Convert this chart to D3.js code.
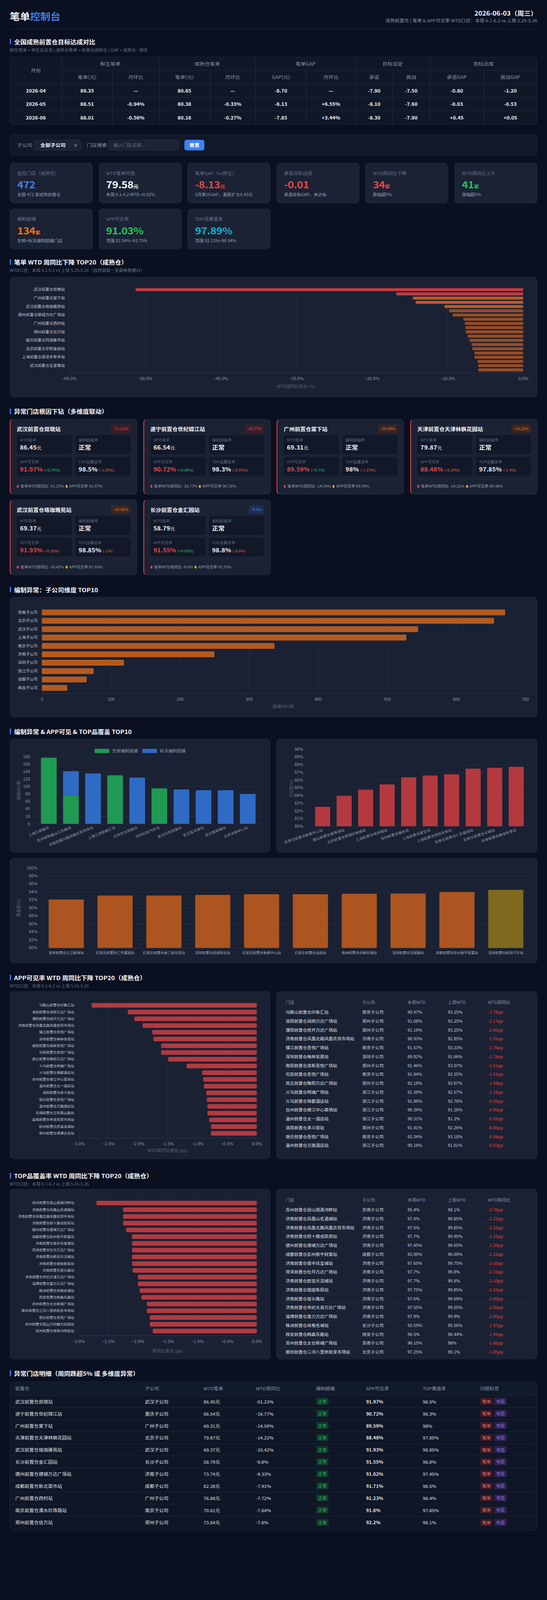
<!DOCTYPE html>
<html lang="zh-CN">
<head>
<meta charset="utf-8">
<title>笔单控制台</title>
<script src="https://cdn.jsdelivr.net/npm/d3@7/dist/d3.min.js"></script>
<style>
*{box-sizing:border-box;margin:0;padding:0}
::-webkit-scrollbar{display:none;width:0;height:0}
html,body{background:#0a1020}
body{position:relative;width:1400px;overflow:hidden;font-family:"Noto Sans CJK SC","Noto Sans",sans-serif;color:#e5e7eb}
#page{position:relative;width:1400px;height:4500px;transform-origin:0 0;background:#0a1020}
.card{position:absolute;background:#1a2133;border:1px solid #232c3f;border-radius:10px;overflow:hidden}
.card svg{position:absolute;left:-1px;top:-1px}
.sec{position:absolute;left:25px;height:22px;line-height:22px;padding-left:11px;font-size:16px;font-weight:700;color:#f8fafc;white-space:nowrap}
.sec::before{content:"";position:absolute;left:0;top:3px;width:3px;height:16px;background:#3b82f6;border-radius:1px}
.sub{position:absolute;left:25px;height:16px;line-height:16px;font-size:11px;color:#64748b;white-space:nowrap}
table{border-collapse:collapse;table-layout:fixed;border-style:hidden}
.tt{position:absolute;left:25px;top:160px;width:1350px;border:1px solid #232c3f;border-radius:8px;overflow:hidden;background:#101727}
.tt table{width:1348px}
.tt th{height:37px;font-size:13px;font-weight:400;color:#8b95a7;border:1px solid #232c3f;text-align:center}
.tt td{height:38px;font-size:13px;font-weight:700;color:#f1f5f9;border:1px solid #232c3f;text-align:center}
.fbar{position:absolute;left:25px;top:378px;width:1350px;height:59px;background:#111827;border:1px solid #1f2a3c;border-radius:8px}
.fbar div{position:absolute}
.kpi{position:absolute;width:212px;height:114px;background:#1b2234;border:1px solid #232c3f;border-radius:10px}
.kpi .l{position:absolute;left:18px;top:19px;font-size:12px;color:#64748b;line-height:18px;white-space:nowrap}
.kpi .v{position:absolute;left:18px;top:43px;font-size:27px;font-weight:700;line-height:34px;white-space:nowrap;letter-spacing:-0.5px}
.kpi .v span{font-size:13px;font-weight:700;letter-spacing:0}
.kpi .s{position:absolute;left:18px;top:80px;font-size:11px;color:#94a3b8;line-height:16px;white-space:nowrap}
.ac{position:absolute;width:326px;height:213px;background:#1b2234;border:1px solid #232c3f;border-left:2px solid #ef4444;border-radius:10px}
.ac .nm{position:absolute;left:16px;top:16px;font-size:14px;font-weight:700;color:#f8fafc;line-height:22px;white-space:nowrap}
.ac .bd{position:absolute;right:16px;top:15px;height:24px;line-height:24px;padding:0 6px;font-size:10px;border-radius:4px}
.ac .bx{position:absolute;width:141px;height:53px;background:#121828;border-radius:6px}
.bx .bl{position:absolute;left:8px;top:7px;font-size:10px;color:#5b6b80;line-height:14px;white-space:nowrap}
.bx .bv{position:absolute;left:8px;top:23px;font-size:16px;font-weight:700;line-height:22px;white-space:nowrap;color:#f1f5f9}
.bx .bv .u{font-size:12px;font-weight:400}
.bx .bv .dl{font-size:10px;font-weight:400}
.ac .dv{position:absolute;left:16px;right:16px;top:169px;height:1px;background:#273043}
.ac .ft{position:absolute;left:16px;top:180px;font-size:10px;color:#9aa3b2;line-height:16px;white-space:nowrap}
.dot{display:inline-block;width:5px;height:8px;border-radius:3px;margin-right:4px;vertical-align:-1px}
.dt{position:absolute;left:14px;top:14px;width:640px}
.dt th{height:30px;text-align:left;padding-left:9px;font-size:11px;font-weight:400;color:#8b95a7;border-bottom:1px solid #232c3f}
.dt td{height:25px;text-align:left;padding-left:9px;font-size:11px;color:#dbe2ea;border-bottom:1px solid #232c3f;white-space:nowrap}
.fin{position:absolute;left:25px;top:3885px;width:1350px;height:420px;background:#0f1626;border:1px solid #1f2937;border-radius:8px;overflow:hidden}
.fin table{width:1348px}
.fin th{height:38px;text-align:left;padding-left:13px;font-size:12px;font-weight:400;color:#8b95a7;border-bottom:1px solid #232c3f;background:#111a2b}
.fin td{height:34px;text-align:left;padding-left:13px;font-size:12px;color:#e5e7eb;border-bottom:1px solid #232c3f;white-space:nowrap}
.tag{display:inline-block;height:20px;line-height:20px;padding:0 5px;font-size:11px;border-radius:3px;margin-right:4px;vertical-align:middle}
</style>
</head>
<body>
<script>
// ===================== DATA =====================
const months = ["2026-04","2026-05","2026-06"];
const freshOrder = [89.35, 88.51, 88.01];
const freshMoM = [null, -0.94, -0.56];
const matureOrder = [80.65, 80.38, 80.16];
const matureMoM = [null, -0.33, -0.27];
const gapOrder = [-8.70, -8.13, -7.85];
const gapMoM = [null, 6.55, 3.44];
const targetCommit = [-7.90, -8.10, -8.30];
const targetChallenge = [-7.50, -7.60, -7.90];
const commitGap = [-0.80, -0.03, 0.45];
const challengeGap = [-1.20, -0.53, 0.05];
const groupHeads = ["鲜生笔单","成熟仓笔单","笔单GAP","目标设定","目标达成"];
const subHeads = ["笔单(元)","月环比","笔单(元)","月环比","GAP(元)","月环比","承诺","挑战","承诺GAP","挑战GAP"];

const kpiLabels = ["监控门店（成熟仓）","WTD笔单均值","笔单GAP（vs鲜生）","承诺目标达成","WTD周同比下降","WTD周同比上升","编制超编","APP可见率","TOP品覆盖率"];
const kpiValues = ["472","79.58","-8.13","-0.01","34","41","134","91.03%","97.89%"];
const kpiUnits = ["","元","元","","家","家","家","",""];
const kpiSubs = ["全国 472 家成熟前置仓","本周 6.1-6.2 WTD +0.02%","5月累计GAP，差距扩大0.43元","承诺目标GAP，未达标","跌幅超5%","涨幅超5%","生鲜+标冻编制超编门店","范围 82.54%~93.75%","范围 92.13%~98.94%"];
const kpiColors = ["#3b82f6","#f8fafc","#ef4444","#ef4444","#ef4444","#22c55e","#f97316","#22c55e","#06b6d4"];

const wtdStores = ["武汉前置仓双墩站","遂宁前置仓世纪锦江站","广州前置仓棠下站","天津前置仓天津林枫花园站","武汉前置仓珞珈雅苑站","长沙前置仓金汇园站","德州前置仓德城万达广场站","成都前置仓新北菜市站","广州前置仓西村站","南京前置仓溧水珍珠路站","郑州前置仓信万站","青岛前置仓台东步行街站","临沂前置仓同城集市站","西安前置仓曲江池站","北京前置仓学府金街站","深圳前置仓龙华汽车站","上海前置仓泗泾手牵手站","杭州前置仓滨江星光站","武汉前置仓五里墩站","成都前置仓双楠站"];
const wtdChange = [-51.23,-16.77,-14.59,-14.22,-10.42,-9.8,-9.33,-7.91,-7.72,-7.64,-7.6,-7.33,-7.1,-6.82,-6.73,-6.45,-6.45,-6.04,-5.94,-5.94];
const wtdTicks = [-60,-50,-40,-30,-20,-10,0];

const anomNames = ["武汉前置仓双墩站","遂宁前置仓世纪锦江站","广州前置仓棠下站","天津前置仓天津林枫花园站","武汉前置仓珞珈雅苑站","长沙前置仓金汇园站"];
const anomDrop = [-51.23,-16.77,-14.59,-14.22,-10.42,-9.8];
const anomWtd = [86.45,66.54,69.31,79.87,69.37,58.79];
const anomStaff = ["正常","正常","正常","正常","正常","正常"];
const anomApp = [91.97,90.72,89.59,88.48,91.93,91.55];
const anomAppDelta = [0.79,0.88,0.7,-0.24,-0.28,0.66];
const anomTop = [98.5,98.3,98,97.85,98.85,98.8];
const anomTopDelta = [-1.05,-0.95,-1.15,-1.4,-1,-0.6];

const subNames = ["苏南子公司","北京子公司","武汉子公司","上海子公司","南京子公司","济南子公司","深圳子公司","浙江子公司","成都子公司","南昌子公司"];
const subOver = [671,655,545,528,337,250,119,75,65,37];
const subTicks = [0,100,200,300,400,500,600,700];

const overStores = ["上海万顺路站","苏州常熟虞山江东路站","济南凤凰北路凤凰农贸市场站","上海江湾新都汇站","北京农大南路站","深圳石岩汽车站","武汉汉阳凤凰站","武汉宝丰路站","武汉鄂家嘴站","北京沃柳中心站"];
const overFresh = [177,76,0,130,0,95,0,0,0,0];
const overFrozen = [0,65,135,0,124,0,92,90,90,80];
const overSeries = ["生鲜编制超编","标冻编制超编"];
const overTicks = [0,20,40,60,80,100,120,140,160,180];

const appLowStores = ["石家庄前置仓勒泰中心站","唐山前置仓爱琴海站","北京前置仓家园印象城站","上海前置仓绿洲城站","深圳前置仓福永站","上海前置仓星空站","上海前置仓阳悦天地站","石家庄前置仓仁华嘉园站","石家庄前置仓北城站","天津前置仓静海东里站"];
const appLowVals = [82.52,83.96,84.75,85.44,86.36,86.59,86.74,87.47,87.59,87.71];
const appLowTicks = [80,81,82,83,84,85,86,87,88,89,90];

const topLowStores = ["宜宾前置仓三江新城站","石家庄前置仓仁华嘉园站","石家庄前置仓振二街北苑站","深圳前置仓西部硅谷站","石家庄前置仓勒泰中心站","石家庄前置仓谈固站","株洲前置仓尚格名城站","深圳前置仓宝丽路站","成都前置仓彭州敖平财富站","深圳前置仓松岗汽车站"];
const topLowVals = [92.09,93.1,93.1,93.24,93.42,93.42,93.54,93.6,93.96,94.52];
const topLowTicks = [80,82,84,86,88,90,92,94,96,98,100];

const appStores = ["马鞍山前置仓印象汇站","洛阳前置仓涧西万达广场站","濮阳前置仓经开万达广场站","济南前置仓凤凰北路凤凰农贸市场站","镇江前置仓吾悦广场站","深圳前置仓梅林安居站","南阳前置仓高新吾悦广场站","句容前置仓吾悦广场站","商丘前置仓睢阳万达广场站","义乌前置仓明城广场站","义乌前置仓锦都酒店站","台州前置仓椒江中心菜场站","温州前置仓太一酒店站","洛阳前置仓承义街站","宿迁前置仓吾悦广场站","温州前置仓万融酒店站","无锡前置仓江阴青山路站","盐城前置仓禾成农贸市场站","杭州前置仓西溪龙湖站","常州前置仓清潭文化站"];
const appSubs = ["南京子公司","郑州子公司","郑州子公司","济南子公司","南京子公司","深圳子公司","郑州子公司","南京子公司","郑州子公司","浙江子公司","浙江子公司","浙江子公司","浙江子公司","郑州子公司","南京子公司","浙江子公司","苏南子公司","南京子公司","浙江子公司","苏南子公司"];
const appThis = [90.47,91.08,91.19,90.93,91.57,89.92,91.46,91.94,92.18,91.39,91.86,90.36,90.31,91.41,92.34,90.18,91.73,91.02,91.5,91.62];
const appLast = [93.25,93.25,93.25,92.85,93.33,91.66,93.07,93.55,93.67,92.57,92.78,91.26,91.2,92.26,93.18,91.01,92.56,91.82,92.27,92.39];
const appDelta = [-2.78,-2.17,-2.06,-1.92,-1.76,-1.74,-1.61,-1.61,-1.49,-1.18,-0.92,-0.90,-0.89,-0.85,-0.84,-0.83,-0.83,-0.80,-0.77,-0.77];

const topStores = ["苏州前置仓昆山观源河畔站","济南前置仓凤凰山名酒城站","济南前置仓凤凰北路凤凰农贸市场站","济南前置仓经十路戎凯苑站","德州前置仓德城万达广场站","成都前置仓彭州敖平财富站","济南前置仓银丰玖玺城站","菏泽前置仓牡丹万达广场站","济南前置仓欧亚乐活城站","济南前置仓银座新辰站","济南前置仓窑头路站","济南前置仓世纪大道万达广场站","淄博前置仓富力万达广场站","株洲前置仓尚格名城站","西安前置仓韩森东路站","苏州前置仓太仓新城广场站","廊坊前置仓三河八里桥批发市场站","宿迁前置仓吾悦广场站","苏州前置仓昆山万科魅力花园站","苏州前置仓常熟书院街站"];
const topSubs = ["苏南子公司","济南子公司","济南子公司","济南子公司","济南子公司","成都子公司","济南子公司","济南子公司","济南子公司","济南子公司","济南子公司","济南子公司","济南子公司","长沙子公司","西安子公司","苏南子公司","北京子公司","南京子公司","苏南子公司","苏南子公司"];
const topThis = [95.4,97.6,97.6,97.7,97.45,93.99,97.65,97.7,97.7,97.75,97.6,97.55,97.9,93.59,96.5,96.15,97.25,97.1,96.8,96.9];
const topLast = [98.1,99.85,99.85,99.95,99.65,96.09,99.75,99.8,99.8,99.85,99.69,99.55,99.9,95.56,98.44,98,99.1,98.9,98.6,98.65];
const topDelta = [-2.70,-2.25,-2.25,-2.25,-2.20,-2.10,-2.10,-2.10,-2.10,-2.10,-2.09,-2.00,-2.00,-1.97,-1.94,-1.85,-1.85,-1.80,-1.80,-1.75];
const ppTicks = [-3,-2.5,-2,-1.5,-1,-0.5,0];
const wtdTableHeads = ["门店","子公司","本周WTD","上周WTD","WTD周同比"];

const detHeads = ["前置仓","子公司","WTD笔单","WTD周同比","编制超编","APP可见率","TOP覆盖率","问题标签"];
const detStores = ["武汉前置仓双墩站","遂宁前置仓世纪锦江站","广州前置仓棠下站","天津前置仓天津林枫花园站","武汉前置仓珞珈雅苑站","长沙前置仓金汇园站","德州前置仓德城万达广场站","成都前置仓新北菜市站","广州前置仓西村站","南京前置仓溧水珍珠路站","郑州前置仓信万站"];
const detSubs = ["武汉子公司","重庆子公司","广州子公司","北京子公司","武汉子公司","长沙子公司","济南子公司","成都子公司","广州子公司","南京子公司","郑州子公司"];
const detWtd = [86.45,66.54,69.31,79.87,69.37,58.79,73.74,82.38,76.88,70.61,73.84];
const detChange = [-51.23,-16.77,-14.59,-14.22,-10.42,-9.8,-9.33,-7.91,-7.72,-7.64,-7.6];
const detStaff = ["正常","正常","正常","正常","正常","正常","正常","正常","正常","正常","正常"];
const detApp = [91.97,90.72,89.59,88.48,91.93,91.55,91.62,91.71,91.23,91.6,92.2];
const detTop = [98.5,98.3,98,97.85,98.85,98.8,97.45,98.5,98.4,97.85,98.1];
const detTags = [["笔单","可见"],["笔单","可见"],["笔单","可见"],["笔单","可见"],["笔单","可见"],["笔单","可见"],["笔单","可见"],["笔单","可见"],["笔单","可见"],["笔单","可见"],["笔单","可见"]];

// ===================== HELPERS =====================
const FONT = '"Noto Sans CJK SC","Noto Sans",sans-serif';
const GRID = '#263043', AXC = '#2f3a4e', TICK = '#8f99aa', LBL = '#c3cad5', TTL = '#5b6577';
const PAGE_H = 4500;
const body = d3.select('body').append('div').attr('id', 'page');
function card(x, y, w, h) {
  return body.append('div').attr('class', 'card').style('left', x + 'px').style('top', y + 'px').style('width', w + 'px').style('height', h + 'px');
}
function svgOf(c, w, h) { return c.append('svg').attr('width', w).attr('height', h); }
function sec(text, cy) { body.append('div').attr('class', 'sec').style('top', (cy - 11) + 'px').text(text); }
function sub(text, cy) { body.append('div').attr('class', 'sub').style('top', (cy - 8) + 'px').text(text); }
function styleAxis(g, o) {
  o = o || {};
  g.attr('font-family', FONT).attr('font-size', o.size || 11);
  g.select('.domain').attr('stroke', o.domain || 'none');
  g.selectAll('.tick line').attr('stroke', o.line || 'none');
  g.selectAll('.tick text').attr('fill', o.fill || TICK);
  return g;
}
const num = v => String(+v);

// ===================== HEADER =====================
body.append('div').style('position', 'absolute').style('left', '25px').style('top', '27px').style('font-size', '26px').style('font-weight', '700').style('line-height', '36px')
  .html('<span style="color:#f8fafc">笔单</span><span style="color:#3b82f6">控制台</span>');
body.append('div').style('position', 'absolute').style('right', '25px').style('top', '26px').style('font-size', '17px').style('font-weight', '700').style('color', '#f8fafc').style('line-height', '22px').text('2026-06-03（周三）');
body.append('div').style('position', 'absolute').style('right', '25px').style('top', '49px').style('font-size', '12px').style('color', '#8b95a7').style('line-height', '18px')
  .text('成熟前置仓 | 笔单 & APP可见率 WTD口径：本周 6.1-6.2 vs 上周 5.25-5.26');
body.append('div').style('position', 'absolute').style('left', '25px').style('top', '81px').style('width', '1350px').style('height', '1px').style('background', '#1e293b');

// ===================== TARGET TABLE =====================
sec('全国成熟前置仓目标达成对比', 117);
sub('鲜生笔单 = 鲜生店业态 | 成熟仓笔单 = 前置仓成熟仓 | GAP = 成熟仓 - 鲜生', 140);
{
  const colW = [132,130,119,130,117,130,126,95,95,138,136];
  const tbl = body.append('div').attr('class', 'tt').append('table');
  const cg = tbl.append('colgroup');
  colW.forEach(w => cg.append('col').style('width', w + 'px'));
  const th = tbl.append('thead');
  const r1 = th.append('tr');
  r1.append('th').attr('rowspan', 2).text('月份');
  groupHeads.forEach(g => r1.append('th').attr('colspan', 2).text(g));
  th.append('tr').selectAll('th').data(subHeads).join('th').text(d => d);
  const f2 = v => v.toFixed(2);
  const pct = v => v == null ? '—' : (v > 0 ? '+' : '') + v.toFixed(2) + '%';
  const s2 = v => (v > 0 ? '+' : '') + v.toFixed(2);
  const rows = months.map((m, i) => [m, f2(freshOrder[i]), pct(freshMoM[i]), f2(matureOrder[i]), pct(matureMoM[i]), f2(gapOrder[i]), pct(gapMoM[i]), f2(targetCommit[i]), f2(targetChallenge[i]), s2(commitGap[i]), s2(challengeGap[i])]);
  tbl.append('tbody').selectAll('tr').data(rows).join('tr').selectAll('td').data(d => d).join('td').text(d => d);
}

// ===================== FILTER BAR =====================
{
  const f = body.append('div').attr('class', 'fbar');
  f.append('div').style('left', '18px').style('top', '0').style('line-height', '57px').style('font-size', '13px').style('color', '#8b95a7').text('子公司');
  const s = f.append('div').style('left', '62px').style('top', '14px').style('width', '120px').style('height', '30px').style('background', '#1b2335').style('border', '1px solid #2a3448').style('border-radius', '6px');
  s.append('div').style('left', '14px').style('top', '0').style('line-height', '28px').style('font-size', '13px').style('font-weight', '700').style('color', '#f1f5f9').text('全部子公司');
  s.append('div').style('right', '8px').style('top', '0').style('line-height', '28px').style('font-size', '11px').style('color', '#e5e7eb').text('∨');
  f.append('div').style('left', '196px').style('top', '0').style('line-height', '57px').style('font-size', '13px').style('color', '#8b95a7').text('门店搜索');
  const inp = f.append('div').style('left', '252px').style('top', '14px').style('width', '180px').style('height', '30px').style('background', '#1b2335').style('border', '1px solid #2a3448').style('border-radius', '6px');
  inp.append('div').style('left', '11px').style('top', '0').style('line-height', '28px').style('font-size', '12px').style('color', '#64748b').text('输入门店名称...');
  f.append('div').style('left', '446px').style('top', '14px').style('width', '51px').style('height', '30px').style('background', '#3b82f6').style('border-radius', '6px').style('text-align', 'center').style('line-height', '30px').style('font-size', '13px').style('font-weight', '700').style('color', '#fff').text('重置');
}

// ===================== KPI CARDS =====================
kpiLabels.forEach((l, i) => {
  const col = i % 6, row = Math.floor(i / 6);
  const k = body.append('div').attr('class', 'kpi').style('left', (25 + col * 227.6) + 'px').style('top', (458 + row * 129) + 'px');
  k.append('div').attr('class', 'l').text(l);
  const v = k.append('div').attr('class', 'v').style('color', kpiColors[i]).text(kpiValues[i]);
  if (kpiUnits[i]) v.append('span').text(kpiUnits[i]);
  k.append('div').attr('class', 's').text(kpiSubs[i]);
});

// ===================== WTD TOP20 =====================
sec('笔单 WTD 周同比下降 TOP20（成熟仓）', 737);
sub('WTD口径：本周 6.1-6.2 vs 上周 5.25-5.26（自然周周一至最新数据日）', 760);
{
  const W = 1350, H = 338;
  const s = svgOf(card(25, 779, W, H), W, H);
  const x = d3.scaleLinear().domain([-60, 0]).range([152, 1314]);
  const y = d3.scaleBand().domain(wtdStores).range([28, 269]).padding(0.3);
  styleAxis(s.append('g').attr('transform', 'translate(0,269)').call(d3.axisBottom(x).tickValues(wtdTicks).tickSize(-241).tickFormat('')), { line: GRID });
  styleAxis(s.append('g').attr('transform', 'translate(0,269)').call(d3.axisBottom(x).tickValues(wtdTicks).tickSize(0).tickPadding(13).tickFormat(d => d3.format('.1f')(d) + '%')), { domain: AXC });
  const ya = styleAxis(s.append('g').attr('transform', 'translate(152,0)').call(d3.axisLeft(y).tickSize(0).tickPadding(11)), { domain: GRID, fill: LBL, size: 10 });
  ya.selectAll('.tick').filter((d, i) => i % 2 === 1).remove();
  s.append('g').selectAll('rect').data(wtdChange).join('rect')
    .attr('x', d => x(d)).attr('width', d => x(0) - x(d))
    .attr('y', (d, i) => y(wtdStores[i])).attr('height', y.bandwidth()).attr('rx', 3)
    .attr('fill', d => d <= -15 ? '#c53a40' : d <= -10 ? '#c05a1e' : '#954d27');
  s.append('text').attr('x', (152 + 1314) / 2).attr('y', 312).attr('text-anchor', 'middle').attr('font-size', 11).attr('fill', TTL).text('WTD周同比变化 (%)');
}

// ===================== ANOMALY CARDS =====================
sec('异常门店根因下钻（多维度联动）', 1157);
anomNames.forEach((n, i) => {
  const col = i % 4, row = Math.floor(i / 4);
  const c = body.append('div').attr('class', 'ac').style('left', (25 + col * 341.67) + 'px').style('top', (1178 + row * 227) + 'px');
  c.append('div').attr('class', 'nm').text(n);
  const d = anomDrop[i];
  const bc = d <= -15 ? ['#3b1d28', '#ef4444'] : d <= -10 ? ['#3a2620', '#f97316'] : ['#1e2f55', '#3b82f6'];
  c.append('div').attr('class', 'bd').style('background', bc[0]).style('color', bc[1]).text(num(d) + '%');
  const dc = v => v >= 0 ? '#22c55e' : '#f0603a';
  const ds = v => '(' + (v >= 0 ? '+' : '') + num(v) + '%)';
  const boxes = [
    ['WTD笔单', anomWtd[i].toFixed(2) + '<span class="u">元</span>', '#f1f5f9'],
    ['编制超编率', anomStaff[i], '#f1f5f9'],
    ['APP可见率', num(anomApp[i]) + '% <span class="dl" style="color:' + dc(anomAppDelta[i]) + '">' + ds(anomAppDelta[i]) + '</span>', '#ef4444'],
    ['TOP品覆盖率', num(anomTop[i]) + '% <span class="dl" style="color:' + dc(anomTopDelta[i]) + '">' + ds(anomTopDelta[i]) + '</span>', '#f1f5f9']
  ];
  boxes.forEach((b, j) => {
    const bx = c.append('div').attr('class', 'bx').style('left', (16 + (j % 2) * 150) + 'px').style('top', (45 + Math.floor(j / 2) * 61) + 'px');
    bx.append('div').attr('class', 'bl').text(b[0]);
    bx.append('div').attr('class', 'bv').style('color', b[2]).html(b[1]);
  });
  c.append('div').attr('class', 'dv');
  c.append('div').attr('class', 'ft').html('<span class="dot" style="background:#ef4444"></span>笔单WTD周同比 ' + num(d) + '% <span class="dot" style="background:#eab308;margin-left:2px"></span>APP可见率 ' + num(anomApp[i]) + '%');
});

// ===================== SUBSIDIARY TOP10 =====================
sec('编制异常：子公司维度 TOP10', 1658);
{
  const W = 1350, H = 338;
  const s = svgOf(card(25, 1679, W, H), W, H);
  const x = d3.scaleLinear().domain([0, 700]).range([82, 1319]);
  const y = d3.scaleBand().domain(subNames).range([28, 271]).padding(0.3);
  styleAxis(s.append('g').attr('transform', 'translate(0,271)').call(d3.axisBottom(x).tickValues(subTicks).tickSize(-243).tickFormat('')), { line: GRID });
  styleAxis(s.append('g').attr('transform', 'translate(0,271)').call(d3.axisBottom(x).tickValues(subTicks).tickSize(0).tickPadding(13)), { domain: AXC });
  styleAxis(s.append('g').attr('transform', 'translate(82,0)').call(d3.axisLeft(y).tickSize(0).tickPadding(11)), { domain: GRID, fill: LBL, size: 10 });
  s.append('g').selectAll('rect').data(subOver).join('rect')
    .attr('x', x(0)).attr('width', d => x(d) - x(0))
    .attr('y', (d, i) => y(subNames[i])).attr('height', y.bandwidth()).attr('rx', 3).attr('fill', '#b45a1f');
  s.append('text').attr('x', 700).attr('y', 312).attr('text-anchor', 'middle').attr('font-size', 11).attr('fill', TTL).text('超编SKU数');
}

// ===================== OVERSTAFF / APP LOW =====================
sec('编制异常 & APP可见 & TOP品覆盖 TOP10', 2057);
{
  const W = 667, H = 320;
  const s = svgOf(card(25, 2078, W, H), W, H);
  const y = d3.scaleLinear().domain([0, 180]).range([239, 50]);
  const x = d3.scaleBand().domain(overStores).range([60, 649]).paddingInner(0.29).paddingOuter(0.35);
  const col = d3.scaleOrdinal().domain(overSeries).range(['#1f9a52', '#2f6bc4']);
  styleAxis(s.append('g').attr('transform', 'translate(60,0)').call(d3.axisLeft(y).tickValues(overTicks).tickSize(-589).tickFormat('')), { line: GRID });
  styleAxis(s.append('g').attr('transform', 'translate(60,0)').call(d3.axisLeft(y).tickValues(overTicks).tickSize(0).tickPadding(8)));
  const stackData = overStores.map((n, i) => ({ name: n, [overSeries[0]]: overFresh[i], [overSeries[1]]: overFrozen[i] }));
  const stacked = d3.stack().keys(overSeries)(stackData);
  s.append('g').selectAll('g').data(stacked).join('g').attr('fill', d => col(d.key))
    .selectAll('rect').data(d => d.filter(p => p[1] > p[0])).join('rect')
    .attr('x', p => x(p.data.name)).attr('width', x.bandwidth())
    .attr('y', p => y(p[1])).attr('height', p => y(p[0]) - y(p[1])).attr('rx', 2);
  const xa = styleAxis(s.append('g').attr('transform', 'translate(0,239)').call(d3.axisBottom(x).tickSize(0)), { size: 9.5 });
  xa.selectAll('.tick text').attr('x', 0).attr('y', 0).attr('dy', '0.35em').attr('transform', 'translate(0,10) rotate(-24)').attr('text-anchor', 'end');
  s.append('text').attr('transform', 'translate(27,145) rotate(-90)').attr('text-anchor', 'middle').attr('font-size', 11).attr('fill', TTL).text('超编SKU数');
  const lg = s.append('g').attr('font-family', FONT).attr('font-size', 11);
  overSeries.forEach((k, i) => {
    lg.append('rect').attr('x', 217 + i * 122).attr('y', 28).attr('width', 38).attr('height', 12).attr('rx', 2).attr('fill', col(k));
    lg.append('text').attr('x', 262 + i * 122).attr('y', 34).attr('dy', '0.35em').attr('fill', TICK).text(k);
  });
}
{
  const W = 668, H = 320;
  const s = svgOf(card(707, 2078, W, H), W, H);
  const y = d3.scaleLinear().domain([80, 90]).range([246, 29]);
  const x = d3.scaleBand().domain(appLowStores).range([83, 650]).padding(0.3);
  styleAxis(s.append('g').attr('transform', 'translate(83,0)').call(d3.axisLeft(y).tickValues(appLowTicks).tickSize(-567).tickFormat('')), { line: GRID });
  styleAxis(s.append('g').attr('transform', 'translate(83,0)').call(d3.axisLeft(y).tickValues(appLowTicks).tickSize(0).tickPadding(14).tickFormat(d => d + '%')));
  s.append('g').selectAll('rect').data(appLowVals).join('rect')
    .attr('x', (d, i) => x(appLowStores[i])).attr('width', x.bandwidth())
    .attr('y', d => y(d)).attr('height', d => y(80) - y(d)).attr('rx', 2).attr('fill', '#b3393f');
  const xa = styleAxis(s.append('g').attr('transform', 'translate(0,246)').call(d3.axisBottom(x).tickSize(0)), { size: 9.5 });
  xa.selectAll('.tick text').attr('x', 0).attr('y', 0).attr('dy', '0.35em').attr('transform', 'translate(0,10) rotate(-20)').attr('text-anchor', 'end');
  s.append('text').attr('transform', 'translate(43,140) rotate(-90)').attr('text-anchor', 'middle').attr('font-size', 11).attr('fill', TTL).text('可见率(%)');
}
{
  const W = 1350, H = 296;
  const s = svgOf(card(25, 2413, W, H), W, H);
  const y = d3.scaleLinear().domain([80, 100]).range([253, 28]);
  const x = d3.scaleBand().domain(topLowStores).range([82, 1332]).paddingInner(0.28).paddingOuter(0.14);
  styleAxis(s.append('g').attr('transform', 'translate(82,0)').call(d3.axisLeft(y).tickValues(topLowTicks).tickSize(-1250).tickFormat('')), { line: GRID });
  styleAxis(s.append('g').attr('transform', 'translate(82,0)').call(d3.axisLeft(y).tickValues(topLowTicks).tickSize(0).tickPadding(11).tickFormat(d => d + '%')), { domain: GRID });
  s.append('g').selectAll('rect').data(topLowVals).join('rect')
    .attr('x', (d, i) => x(topLowStores[i])).attr('width', x.bandwidth())
    .attr('y', d => y(d)).attr('height', d => y(80) - y(d)).attr('rx', 2)
    .attr('fill', d => d >= 94.5 ? '#7e6a1e' : '#ad5520');
  styleAxis(s.append('g').attr('transform', 'translate(0,253)').call(d3.axisBottom(x).tickSize(0).tickPadding(11)), { fill: '#aab2c0', size: 9 });
  s.append('text').attr('transform', 'translate(27,140) rotate(-90)').attr('text-anchor', 'middle').attr('font-size', 11).attr('fill', TTL).text('覆盖率(%)');
}

// ===================== PP CHARTS + TABLES =====================
function ppChart(top, h, names, vals, title) {
  const W = 667;
  const s = svgOf(card(25, top, W, h), W, h);
  const x = d3.scaleLinear().domain([-3, 0]).range([176, 632]);
  const y = d3.scaleBand().domain(names).range([27, 412]).padding(0.32);
  styleAxis(s.append('g').attr('transform', 'translate(0,412)').call(d3.axisBottom(x).tickValues(ppTicks).tickSize(-385).tickFormat('')), { line: GRID });
  styleAxis(s.append('g').attr('transform', 'translate(0,412)').call(d3.axisBottom(x).tickValues(ppTicks).tickSize(0).tickPadding(13).tickFormat(d => d3.format('.1f')(d) + '%')), { domain: AXC });
  styleAxis(s.append('g').attr('transform', 'translate(176,0)').call(d3.axisLeft(y).tickSize(0).tickPadding(11)), { domain: GRID, fill: LBL, size: 9 });
  s.append('g').selectAll('rect').data(vals).join('rect')
    .attr('x', d => x(d)).attr('width', d => x(0) - x(d))
    .attr('y', (d, i) => y(names[i])).attr('height', y.bandwidth()).attr('rx', 3).attr('fill', '#b23a40');
  s.append('text').attr('x', 404).attr('y', h - 20).attr('text-anchor', 'middle').attr('font-size', 11).attr('fill', TTL).text(title);
}
// The table card is a fixed-height scroll view: only the rows that fit in it are shown.
function ppTable(top, h, stores, subs, thisW, lastW, delta) {
  const c = card(707, top, 668, h);
  const tbl = c.append('table').attr('class', 'dt');
  const cg = tbl.append('colgroup');
  [196, 116, 103, 103, 122].forEach(w => cg.append('col').style('width', w + 'px'));
  tbl.append('thead').append('tr').selectAll('th').data(wtdTableHeads).join('th').text(d => d);
  const fit = Math.floor((h - 14 - 30 - 4) / 25);
  const rows = stores.slice(0, fit).map((n, i) => [n, subs[i], num(thisW[i]) + '%', num(lastW[i]) + '%', delta[i].toFixed(2) + 'pp']);
  tbl.append('tbody').selectAll('tr').data(rows).join('tr').selectAll('td').data(d => d).join('td')
    .style('color', (d, j) => j === 4 ? '#ef4444' : j === 0 ? '#e2e8f0' : '#cbd5e1').text(d => d);
}
sec('APP可见率 WTD 周同比下降 TOP20（成熟仓）', 2749);
sub('WTD口径：本周 6.1-6.2 vs 上周 5.25-5.26', 2772);
ppChart(2788, 472, appStores, appDelta, 'WTD周同比变化 (pp)');
ppTable(2788, 472, appStores, appSubs, appThis, appLast, appDelta);

sec('TOP品覆盖率 WTD 周同比下降 TOP20（成熟仓）', 3307);
sub('WTD口径：本周 6.1-6.2 vs 上周 5.25-5.26', 3329);
ppChart(3344, 479, topStores, topDelta, '周同比变化 (pp)');
ppTable(3344, 479, topStores, topSubs, topThis, topLast, topDelta);

// ===================== DETAIL TABLE =====================
sec('异常门店明细（周同跌超5% 或 多维度异常）', 3862);
{
  const tbl = body.append('div').attr('class', 'fin').append('table');
  const cg = tbl.append('colgroup');
  [332, 150, 134, 154, 128, 145, 147, 158].forEach(w => cg.append('col').style('width', w + 'px'));
  tbl.append('thead').append('tr').selectAll('th').data(detHeads).join('th').text(d => d);
  const tagStyle = { '笔单': ['#3b1a24', '#f87171'], '可见': ['#2b2150', '#a78bfa'] };
  const tr = tbl.append('tbody').selectAll('tr').data(detStores).join('tr');
  tr.append('td').text(d => d);
  tr.append('td').text((d, i) => detSubs[i]);
  tr.append('td').text((d, i) => detWtd[i].toFixed(2) + '元');
  tr.append('td').text((d, i) => num(detChange[i]) + '%');
  tr.append('td').append('span').attr('class', 'tag').style('background', '#14352a').style('color', '#22c55e').text((d, i) => detStaff[i]);
  tr.append('td').style('font-weight', '700').text((d, i) => num(detApp[i]) + '%');
  tr.append('td').text((d, i) => num(detTop[i]) + '%');
  tr.append('td').each(function (d, i) {
    d3.select(this).selectAll('span').data(detTags[i]).join('span').attr('class', 'tag')
      .style('background', t => tagStyle[t][0]).style('color', t => tagStyle[t][1]).text(t => t);
  });
}

// ===================== FIT TO VIEWPORT =====================
// The full dashboard is laid out on a 1400x4500 page; if the window is shorter,
// squeeze it vertically so the whole dashboard stays visible.
{
  const k = Math.min(1, (window.innerHeight || PAGE_H) / PAGE_H);
  body.style('transform', k < 1 ? 'scaleY(' + k + ')' : null);
  d3.select('body').style('height', (PAGE_H * k) + 'px');
}
</script>
</body>
</html>
